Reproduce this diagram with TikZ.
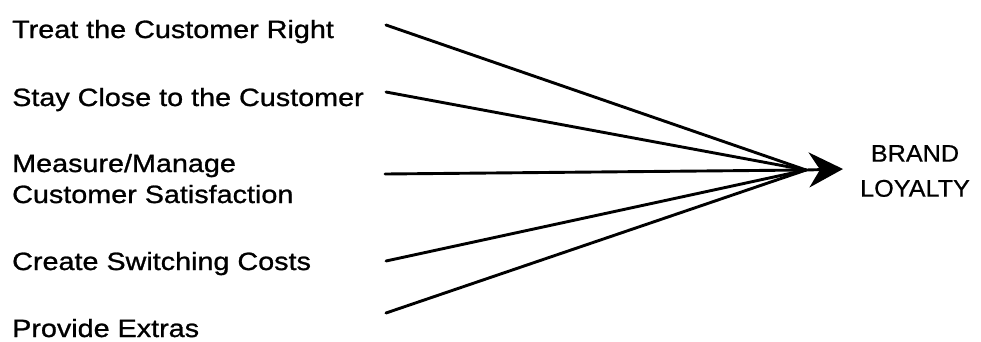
\documentclass[tikz,border=0pt]{standalone}
\usepackage{fontspec}
\setmainfont{Liberation Sans}[FakeStretch=1.15,FakeBold=1]
\newfontfamily\brandfont{Liberation Sans}[FakeStretch=1.05,FakeBold=0.6]
\usetikzlibrary{arrows.meta}

\begin{document}
\begin{tikzpicture}[x=1pt,y=-1pt,line cap=round,line join=round,
    driver/.style={anchor=base west,inner sep=0pt,align=left,
      font=\fontsize{25}{31}\selectfont},
    feed/.style={line width=2.9pt}]
  \useasboundingbox (0,0) rectangle (981,341);

  % Drivers on the left.
  \node[driver] (treat) at (12,38) {Treat the Customer Right};
  \node[driver] (stay) at (12,106) {Stay Close to the Customer};
  \node[driver] (measure) at (12,203) {Measure/Manage\\Customer Satisfaction};
  \node[driver] (switch) at (12,270) {Create Switching Costs};
  \node[driver] (extras) at (12,337) {Provide Extras};

  % Line starts, hub and arrow tip.
  \coordinate (s1) at (386,25);
  \coordinate (s2) at (386,92);
  \coordinate (s3) at (385,174);
  \coordinate (s4) at (386,261);
  \coordinate (s5) at (386,313);
  \coordinate (hub) at (806,170);
  \coordinate (tip) at (843,169);

  \foreach \s in {s1,s2,s3,s4,s5}
    \draw[feed] (\s)--(hub);
  \draw[feed,-{Stealth[length=34pt,width=35pt,inset=11pt]}] (hub)--(tip);

  % Outcome.
  \node[align=center,inner sep=0pt,font=\brandfont\fontsize{24}{35}\selectfont]
    (loyalty) at (915,171) {BRAND\\LOYALTY};
\end{tikzpicture}
\end{document}
